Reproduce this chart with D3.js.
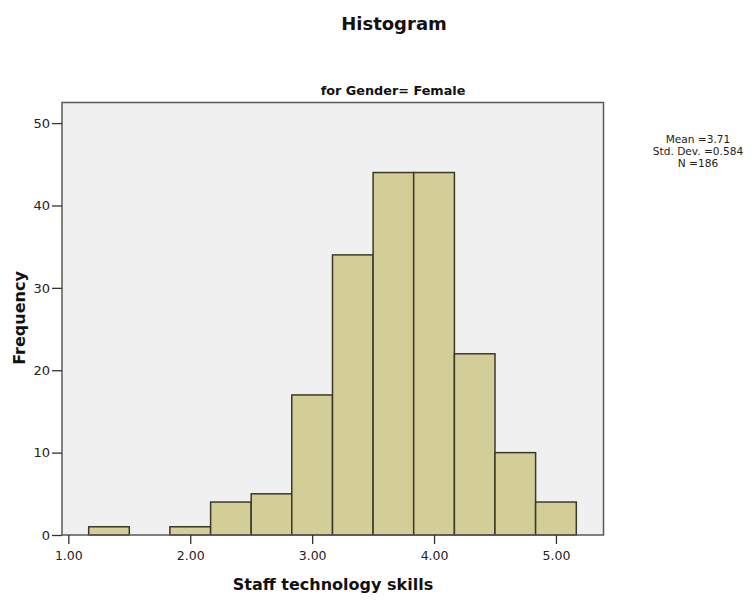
<!DOCTYPE html>
<html>
<head>
<meta charset="utf-8">
<script src="https://cdn.jsdelivr.net/npm/d3@7"></script>
<style>
  html, body { margin: 0; padding: 0; background: #ffffff; }
  svg { display: block; font-family: "DejaVu Sans", sans-serif; }
</style>
</head>
<body>
<svg id="chart" width="756" height="600"></svg>
<script>
// Histogram of staff technology skills (female respondents)
const binEdges = [1.167, 1.5, 1.833, 2.167, 2.5, 2.833, 3.167, 3.5, 3.833, 4.167, 4.5, 4.833, 5.167];
const binCounts = [1, 0, 1, 4, 5, 17, 34, 44, 44, 22, 10, 4];
const xTickValues = [1, 2, 3, 4, 5];
const yTickValues = [0, 10, 20, 30, 40, 50];
const statLines = ["Mean =3.71", "Std. Dev. =0.584", "N =186"];

const titleText = "Histogram";
const subtitleText = "for Gender= Female";
const xLabel = "Staff technology skills";
const yLabel = "Frequency";

const plot = { left: 62, right: 603.5, top: 102.5, bottom: 535 };

const svg = d3.select("#chart");

const x = d3.scaleLinear().domain([0.948, 5.39]).range([plot.left, plot.right]);
const y = d3.scaleLinear().domain([0, 52.5]).range([plot.bottom, plot.top]);

// plot background
svg.append("rect")
  .attr("x", plot.left).attr("y", plot.top)
  .attr("width", plot.right - plot.left).attr("height", plot.bottom - plot.top)
  .attr("fill", "#f0f0f0");

// bars (empty bins are not drawn)
const bins = binCounts.map((c, i) => ({ x0: binEdges[i], x1: binEdges[i + 1], count: c }))
  .filter(d => d.count > 0);

svg.append("g").selectAll("rect")
  .data(bins)
  .join("rect")
  .attr("x", d => x(d.x0))
  .attr("y", d => y(d.count))
  .attr("width", d => x(d.x1) - x(d.x0))
  .attr("height", d => y(0) - y(d.count))
  .attr("fill", "#d3ce98")
  .attr("stroke", "#3b3a28")
  .attr("stroke-width", 1.5);

// plot frame
svg.append("rect")
  .attr("x", plot.left).attr("y", plot.top)
  .attr("width", plot.right - plot.left).attr("height", plot.bottom - plot.top)
  .attr("fill", "none")
  .attr("stroke", "#5a5a5a")
  .attr("stroke-width", 1.5);

// y axis
const yAxis = svg.append("g")
  .attr("transform", `translate(${plot.left},0)`)
  .call(d3.axisLeft(y).tickValues(yTickValues).tickSize(10).tickPadding(2).tickFormat(d3.format("d")));
yAxis.select(".domain").remove();
yAxis.selectAll("line").attr("stroke", "#333").attr("stroke-width", 1.3);
yAxis.selectAll("text").attr("font-size", 13).attr("fill", "#222")
  .attr("font-family", "DejaVu Sans, sans-serif");

// x axis
const xAxis = svg.append("g")
  .attr("transform", `translate(0,${plot.bottom})`)
  .call(d3.axisBottom(x).tickValues(xTickValues).tickSize(9).tickPadding(7).tickFormat(d3.format(".2f")));
xAxis.select(".domain").remove();
xAxis.selectAll("line").attr("stroke", "#333").attr("stroke-width", 1.3);
xAxis.selectAll("text").attr("font-size", 12.5).attr("fill", "#222")
  .attr("font-family", "DejaVu Sans, sans-serif");

// titles
svg.append("text")
  .attr("x", 394).attr("y", 30)
  .attr("text-anchor", "middle")
  .attr("font-size", 18).attr("font-weight", "bold").attr("fill", "#111")
  .text(titleText);

svg.append("text")
  .attr("x", 393).attr("y", 95)
  .attr("text-anchor", "middle")
  .attr("font-size", 12.8).attr("font-weight", "bold").attr("fill", "#111")
  .text(subtitleText);

svg.append("text")
  .attr("x", 333).attr("y", 590)
  .attr("text-anchor", "middle")
  .attr("font-size", 16).attr("font-weight", "bold").attr("fill", "#111")
  .text(xLabel);

svg.append("text")
  .attr("transform", "translate(25,318) rotate(-90)")
  .attr("text-anchor", "middle")
  .attr("font-size", 16).attr("font-weight", "bold").attr("fill", "#111")
  .text(yLabel);

// summary statistics
svg.append("g").selectAll("text")
  .data(statLines)
  .join("text")
  .attr("x", 698)
  .attr("y", (d, i) => 142.5 + i * 12)
  .attr("text-anchor", "middle")
  .attr("font-size", 10.6).attr("fill", "#222")
  .text(d => d);
</script>
</body>
</html>
